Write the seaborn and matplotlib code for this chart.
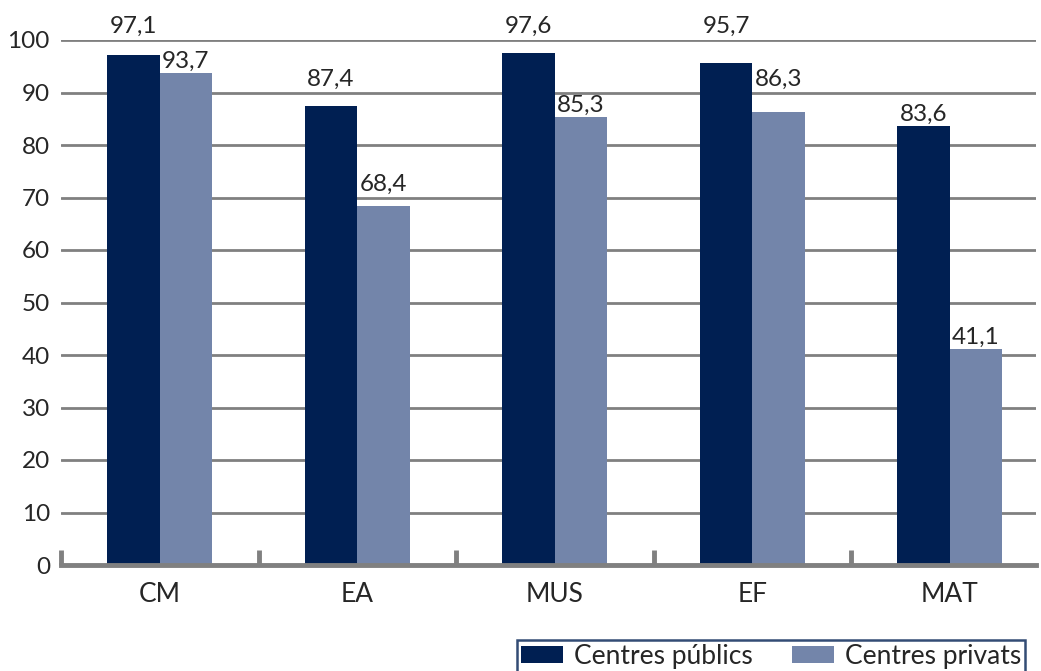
import numpy as np
import pandas as pd
import matplotlib.pyplot as plt
import seaborn as sns

categories = ["CM", "EA", "MUS", "EF", "MAT"]
publics = [97.1, 87.4, 97.6, 95.7, 83.6]
privats = [93.7, 68.4, 85.3, 86.3, 41.1]
series = ["Centres públics", "Centres privats"]
colors = ["#001f52", "#7385aa"]

df = pd.DataFrame({
    "cat": categories * 2,
    "value": publics + privats,
    "serie": [series[0]] * len(categories) + [series[1]] * len(categories),
})

sns.set_style("white")
plt.rcParams["font.family"] = ["Lato", "DejaVu Sans"]

fig = plt.figure(figsize=(10.41, 6.71), dpi=100)
ax = fig.add_axes([61 / 1041, (671 - 565) / 671, (1036 - 61) / 1041, 525 / 671])

sns.barplot(data=df, x="cat", y="value", hue="serie", palette=colors,
            width=0.53, gap=0, saturation=1, linewidth=0, ax=ax, legend=True)

gridvals = np.arange(0, 101, 10)

# value labels: sit just above the bar, or on the next gridline if they'd cross it
for cont in ax.containers:
    for bar, v in zip(cont, cont.datavalues):
        bottom = v + 0.3
        crossed = gridvals[(gridvals > bottom) & (gridvals < bottom + 4.3)]
        if len(crossed):
            bottom = crossed[0] + 0.6
        ax.text(bar.get_x() + bar.get_width() / 2, bottom,
                f"{v:.1f}".replace(".", ","), ha="center", va="bottom",
                fontsize=17.5, clip_on=False)

ax.set_xlim(-0.5, -0.5 + (1036 - 61) / 197.5)
ax.set_ylim(0, 100)
ax.set_yticks(gridvals)
ax.set_yticklabels([str(v) for v in gridvals], fontsize=17.5)
ax.yaxis.grid(True, color="#808080", linewidth=2)
ax.set_axisbelow(True)
ax.tick_params(axis="y", length=0, pad=8)
ax.tick_params(axis="x", which="major", length=0, labelsize=19, pad=12)
ax.set_xticks([-0.5, 0.5, 1.5, 2.5, 3.5], minor=True)
ax.tick_params(axis="x", which="minor", bottom=True, direction="in",
               length=11, width=3.5, color="#808080")

for s in ["top", "right", "left"]:
    ax.spines[s].set_visible(False)
ax.spines["bottom"].set_color("#808080")
ax.spines["bottom"].set_linewidth(3.5)
ax.set_xlabel("")
ax.set_ylabel("")

handles, labels = ax.get_legend_handles_labels()
ax.get_legend().remove()
leg = fig.legend(handles, labels, ncol=2, loc="upper right",
                 bbox_to_anchor=(1025 / 1041, (671 - 640) / 671),
                 fontsize=19, frameon=True, fancybox=False,
                 handlelength=1.6, handleheight=0.6, handletextpad=0.4,
                 columnspacing=1.5, borderpad=0.15, borderaxespad=0)
leg.get_frame().set_edgecolor("#001f52")
leg.get_frame().set_linewidth(1.8)

fig.savefig("out.png", dpi=100)
